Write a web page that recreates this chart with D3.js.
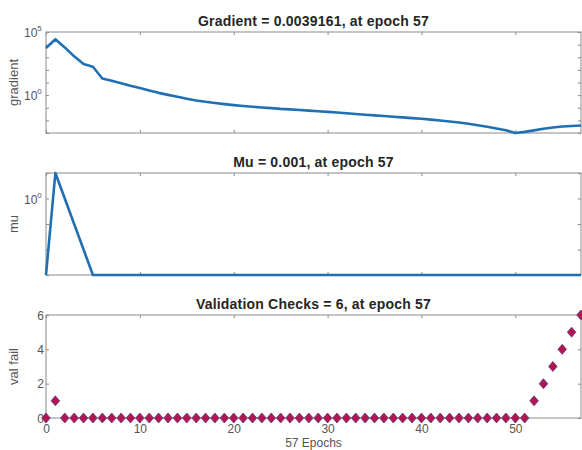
<!DOCTYPE html>
<html>
<head>
<meta charset="utf-8">
<script src="https://cdn.jsdelivr.net/npm/d3@7"></script>
<style>
  html, body { margin: 0; padding: 0; background: #fff; }
  svg { display: block; font-family: "Liberation Sans", Arial, sans-serif; }
</style>
</head>
<body>
<svg id="chart" width="582" height="450"></svg>
<script>
// Training record, one entry per epoch (0..57)
const epochs = d3.range(0, 58);

const gradient = [
  5370, 26300, 6000, 1175, 288, 178, 20.9, 13.5, 8.9, 5.5,
  3.63, 2.34, 1.51, 1.05, 0.741, 0.513, 0.380, 0.295, 0.240, 0.195,
  0.162, 0.138, 0.120, 0.105, 0.0933, 0.0813, 0.0741, 0.0661, 0.0589, 0.0525,
  0.0468, 0.0417, 0.0363, 0.0324, 0.0282, 0.0251, 0.0219, 0.0195, 0.0174, 0.0151,
  0.0135, 0.0115, 0.00977, 0.00813, 0.00676, 0.00537, 0.00417, 0.00309, 0.00229, 0.00166,
  0.00099, 0.00123, 0.00162, 0.00214, 0.00275, 0.00324, 0.00363, 0.0039161
];

const mu = [0.001, 10, 1, 0.1, 0.01].concat(d3.range(5, 58).map(() => 0.001));

const valFail = [0, 1].concat(d3.range(2, 52).map(() => 0), [1, 2, 3, 4, 5, 6]);

const xTicks = [0, 10, 20, 30, 40, 50];
const gradTickLabels = [1e5, 1e0];
const muTickLabels = [1e0];
const valTicks = [0, 2, 4, 6];

const titles = [
  "Gradient = 0.0039161, at epoch 57",
  "Mu = 0.001, at epoch 57",
  "Validation Checks = 6, at epoch 57"
];
const yLabels = ["gradient", "mu", "val fail"];
const xLabel = "57 Epochs";

const svg = d3.select("#chart");
const left = 46, right = 581;
const panels = [
  { top: 32, bottom: 133 },
  { top: 173, bottom: 275 },
  { top: 315, bottom: 418 }
];

const axisColor = "#8a8a8a";
const textColor = "#555";
const lineColor = "#1f6fb2";
const tickFont = 12;

const x = d3.scaleLinear().domain([0, 57]).range([left, right]);

const yGrad = d3.scaleLog().domain([1e-3, 1e5]).range([panels[0].bottom, panels[0].top]);
const yMu = d3.scaleLog().domain([1e-3, 1e1]).range([panels[1].bottom, panels[1].top]);
const yVal = d3.scaleLinear().domain([0, 6]).range([panels[2].bottom, panels[2].top]);

function superscriptLabel(g, v) {
  const e = Math.round(Math.log10(v));
  const t = g.append("text").attr("fill", textColor).attr("font-size", tickFont);
  t.append("tspan").text("10");
  t.append("tspan").attr("dy", -6).attr("font-size", 8).text(e);
}

function frame(i, yScale, yTickVals, labelFn) {
  const p = panels[i];
  const g = svg.append("g");

  // x ticks: inward on bottom and top edges
  const xb = g.append("g").attr("transform", `translate(0,${p.bottom})`)
    .call(d3.axisBottom(x).tickValues(xTicks).tickSizeInner(-3).tickSizeOuter(0).tickFormat(i === 2 ? d3.format("d") : ""));
  const xt = g.append("g").attr("transform", `translate(0,${p.top})`)
    .call(d3.axisTop(x).tickValues(xTicks).tickSizeInner(-3).tickSizeOuter(0).tickFormat(""));
  // y ticks: inward on left and right edges
  const yl = g.append("g").attr("transform", `translate(${left},0)`)
    .call(d3.axisLeft(yScale).tickValues(yTickVals).tickSizeInner(-3).tickSizeOuter(0).tickFormat(""));
  const yr = g.append("g").attr("transform", `translate(${right},0)`)
    .call(d3.axisRight(yScale).tickValues(yTickVals).tickSizeInner(-3).tickSizeOuter(0).tickFormat(""));

  [xb, xt, yl, yr].forEach(a => {
    a.select(".domain").remove();
    a.selectAll("line").attr("stroke", axisColor);
    a.selectAll("text").attr("fill", textColor).attr("font-size", tickFont)
      .attr("font-family", "Liberation Sans, Arial, sans-serif");
  });
  xb.selectAll("text").attr("y", 0).attr("dy", 0)
    .attr("transform", "translate(0,15)");

  g.append("rect")
    .attr("x", left).attr("y", p.top)
    .attr("width", right - left).attr("height", p.bottom - p.top)
    .attr("fill", "none").attr("stroke", axisColor).attr("stroke-width", 1);

  labelFn(g);

  svg.append("text")
    .attr("x", (left + right) / 2).attr("y", p.top - 6)
    .attr("text-anchor", "middle").attr("font-weight", "bold")
    .attr("font-size", 14).attr("letter-spacing", 0.2).attr("fill", "#262626")
    .text(titles[i]);

  svg.append("text")
    .attr("transform", `translate(18,${(p.top + p.bottom) / 2}) rotate(-90)`)
    .attr("text-anchor", "middle").attr("font-size", 13).attr("fill", textColor)
    .text(yLabels[i]);
}

// Panel 1: gradient (log)
frame(0, yGrad, d3.range(-3, 6).map(k => Math.pow(10, k)), g => {
  gradTickLabels.forEach(v => {
    const lg = g.append("g").attr("transform", `translate(${left - 22},${yGrad(v) + 4.5})`);
    superscriptLabel(lg, v);
  });
});
svg.append("path")
  .datum(epochs)
  .attr("fill", "none").attr("stroke", lineColor).attr("stroke-width", 2.6)
  .attr("stroke-linejoin", "round")
  .attr("d", d3.line().x(d => x(d)).y(d => yGrad(gradient[d])));

// Panel 2: mu (log)
frame(1, yMu, d3.range(-3, 2).map(k => Math.pow(10, k)), g => {
  muTickLabels.forEach(v => {
    const lg = g.append("g").attr("transform", `translate(${left - 22},${yMu(v) + 5})`);
    superscriptLabel(lg, v);
  });
});
svg.append("path")
  .datum(epochs)
  .attr("fill", "none").attr("stroke", lineColor).attr("stroke-width", 2.6)
  .attr("stroke-linejoin", "round")
  .attr("d", d3.line().x(d => x(d)).y(d => yMu(mu[d])));

// Panel 3: validation checks
frame(2, yVal, valTicks, g => {
  valTicks.forEach(v => {
    g.append("text").attr("x", left - 2).attr("y", yVal(v) + 4.5)
      .attr("text-anchor", "end").attr("fill", textColor).attr("font-size", tickFont)
      .text(v);
  });
});
svg.append("g").selectAll("path")
  .data(epochs)
  .join("path")
  .attr("transform", d => `translate(${x(d)},${yVal(valFail[d])})`)
  .attr("d", "M0,-5L4.3,0L0,5L-4.3,0Z")
  .attr("fill", "#b3164f").attr("stroke", "#5a3b8a").attr("stroke-width", 0.8);

svg.append("text")
  .attr("x", (left + right) / 2).attr("y", 447)
  .attr("text-anchor", "middle").attr("font-size", 12).attr("fill", textColor)
  .text(xLabel);
</script>
</body>
</html>
